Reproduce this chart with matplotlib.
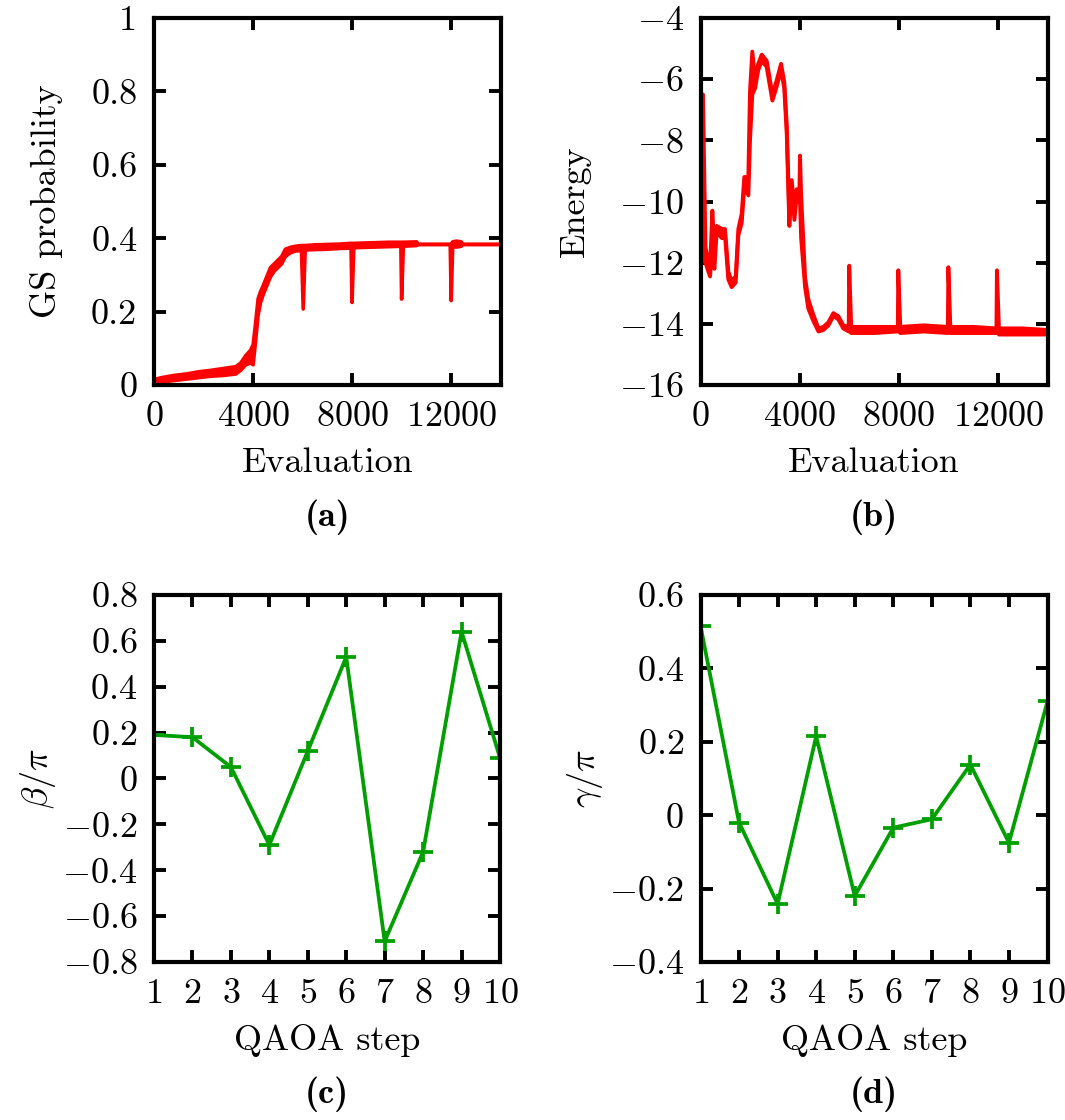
import numpy as np
import matplotlib.pyplot as plt

plt.rcParams['font.family'] = 'cmr10'
plt.rcParams['mathtext.fontset'] = 'cm'
plt.rcParams['axes.formatter.use_mathtext'] = True
plt.rcParams['font.size'] = 26

# (a) GS probability vs evaluation: lower / upper edge of the noisy trace
eval_a = [0, 300, 800, 1300, 1800, 2300, 2800, 3300, 3500, 3700, 3900, 4000,
          4100, 4200, 4300, 4400, 4550, 4700, 4850, 5000, 5150, 5300, 5500,
          5700, 5950, 6020, 6100, 6500, 7000, 7500, 7950, 7990, 8060, 8500,
          9000, 9500, 9960, 9990, 10060, 10600, 10650, 11950, 11990, 12050,
          12200, 12400, 12450, 14000]
gs_low = [0.000, 0.008, 0.012, 0.016, 0.020, 0.024, 0.026, 0.030, 0.040,
          0.055, 0.060, 0.055, 0.120, 0.190, 0.225, 0.245, 0.270, 0.295,
          0.310, 0.320, 0.330, 0.350, 0.360, 0.365, 0.366, 0.207, 0.368,
          0.369, 0.370, 0.372, 0.373, 0.225, 0.374, 0.375, 0.376, 0.377,
          0.378, 0.234, 0.378, 0.380, 0.383, 0.383, 0.230, 0.376, 0.376,
          0.378, 0.383, 0.383]
gs_high = [0.015, 0.020, 0.026, 0.030, 0.036, 0.040, 0.045, 0.050, 0.060,
           0.080, 0.095, 0.110, 0.170, 0.235, 0.255, 0.270, 0.295, 0.320,
           0.330, 0.340, 0.350, 0.370, 0.375, 0.378, 0.380, 0.380, 0.380,
           0.382, 0.383, 0.384, 0.386, 0.386, 0.386, 0.387, 0.388, 0.389,
           0.389, 0.389, 0.389, 0.390, 0.383, 0.383, 0.383, 0.390, 0.392,
           0.390, 0.383, 0.383]

# (b) energy vs evaluation: lower / upper edge of the noisy trace
eval_b = [0, 100, 200, 385, 478, 560, 653, 868, 988, 1123, 1258, 1420, 1527,
          1662, 1768, 1930, 1997, 2090, 2200, 2330, 2470, 2670, 2900, 3070,
          3250, 3380, 3480, 3585, 3680, 3790, 3880, 3990, 4015, 4060, 4220,
          4350, 4550, 4760, 4960, 5160, 5360, 5560, 5760, 5980, 6000, 6080,
          7000, 7960, 7980, 8060, 9000, 9980, 10000, 10080, 11000, 11940,
          11960, 12040, 13000, 14000]
en_low = [-9.0, -11.9, -12.0, -12.45, -11.5, -12.2, -11.0, -11.2, -11.1,
          -12.55, -12.8, -12.65, -11.1, -10.7, -9.5, -9.8, -8.0, -6.5, -6.3,
          -5.7, -5.4, -5.6, -6.7, -6.25, -5.7, -6.3, -7.8, -10.8, -9.5,
          -10.6, -9.8, -10.0, -10.0, -11.2, -12.8, -13.5, -13.9, -14.25,
          -14.2, -14.05, -13.75, -13.85, -14.15, -14.25, -14.15, -14.3, -14.3,
          -14.25, -14.15, -14.3, -14.25, -14.3, -14.15, -14.3, -14.3, -14.3,
          -14.2, -14.35, -14.35, -14.35]
en_high = [-6.5, -6.5, -11.5, -12.2, -10.3, -11.6, -10.8, -10.9, -10.9,
           -12.3, -12.6, -12.45, -10.9, -10.4, -9.2, -9.2, -6.4, -5.1, -6.0,
           -5.5, -5.2, -5.4, -6.5, -6.05, -5.5, -6.1, -7.5, -10.5, -9.3,
           -10.3, -9.6, -9.7, -8.5, -9.8, -12.5, -13.2, -13.7, -14.15, -14.1,
           -13.95, -13.65, -13.75, -14.05, -14.1, -12.1, -14.1, -14.1, -14.1,
           -12.25, -14.1, -14.05, -14.1, -12.15, -14.1, -14.1, -14.15, -12.25,
           -14.15, -14.15, -14.2]

# (c), (d) QAOA angles
steps = np.arange(1, 11)
beta = [0.19, 0.18, 0.05, -0.29, 0.12, 0.53, -0.71, -0.32, 0.64, 0.09]
gamma = [0.516, -0.02, -0.242, 0.215, -0.22, -0.034, -0.011, 0.138, -0.075, 0.31]

red = '#ff0000'
green = '#009f00'

fig = plt.figure(figsize=(10.65, 11.2), dpi=100)
ax_a = fig.add_axes([154/1065, 1-385/1120, 347/1065, 367/1120])
ax_b = fig.add_axes([700.5/1065, 1-385/1120, 347/1065, 367/1120])
ax_c = fig.add_axes([154/1065, 1-962/1120, 346/1065, 367/1120])
ax_d = fig.add_axes([700.5/1065, 1-962/1120, 347/1065, 367/1120])

for ax in (ax_a, ax_b, ax_c, ax_d):
    for s in ax.spines.values():
        s.set_linewidth(3.0)
    ax.tick_params(direction='in', top=True, right=True, length=8.5,
                   width=2.8, pad=12, labelsize=26)

ax_a.fill_between(eval_a, gs_low, gs_high, color=red, lw=0)
ax_a.plot(eval_a, gs_low, color=red, lw=2.6)
ax_a.plot(eval_a, gs_high, color=red, lw=2.6)
ax_a.set_xlim(0, 14000)
ax_a.set_ylim(0, 1)
ax_a.set_xticks([0, 4000, 8000, 12000])
ax_a.set_yticks([0, 0.2, 0.4, 0.6, 0.8, 1])
ax_a.set_yticklabels(['0', '0.2', '0.4', '0.6', '0.8', '1'])
ax_a.set_xlabel('Evaluation', labelpad=10)
ax_a.set_ylabel('GS probability', labelpad=20)

ax_b.fill_between(eval_b, en_low, en_high, color=red, lw=0)
ax_b.plot(eval_b, en_low, color=red, lw=2.8)
ax_b.plot(eval_b, en_high, color=red, lw=2.8)
ax_b.set_xlim(0, 14000)
ax_b.set_ylim(-16, -4)
ax_b.set_xticks([0, 4000, 8000, 12000])
ax_b.set_yticks([-16, -14, -12, -10, -8, -6, -4])
ax_b.set_xlabel('Evaluation', labelpad=10)
ax_b.set_ylabel('Energy', labelpad=20)

ax_c.plot(steps, beta, color=green, lw=2.7, marker='+', ms=14, mew=2.7)
ax_c.set_xlim(1, 10)
ax_c.set_ylim(-0.8, 0.8)
ax_c.set_xticks(steps)
ax_c.set_yticks([-0.8, -0.6, -0.4, -0.2, 0, 0.2, 0.4, 0.6, 0.8])
ax_c.set_yticklabels(['$-0.8$', '$-0.6$', '$-0.4$', '$-0.2$', '$0$',
                      '$0.2$', '$0.4$', '$0.6$', '$0.8$'])
ax_c.set_xlabel('QAOA step', labelpad=10)
ax_c.set_ylabel(r'$\beta/\pi$', labelpad=3)

ax_d.plot(steps, gamma, color=green, lw=2.7, marker='+', ms=14, mew=2.7)
ax_d.set_xlim(1, 10)
ax_d.set_ylim(-0.4, 0.6)
ax_d.set_xticks(steps)
ax_d.set_yticks([-0.4, -0.2, 0, 0.2, 0.4, 0.6])
ax_d.set_yticklabels(['$-0.4$', '$-0.2$', '$0$', '$0.2$', '$0.4$', '$0.6$'])
ax_d.set_xlabel('QAOA step', labelpad=10)
ax_d.set_ylabel(r'$\gamma/\pi$', labelpad=3)

for ax, tag in zip((ax_a, ax_b, ax_c, ax_d), 'abcd'):
    ax.text(0.5, -0.36, '(%s)' % tag, transform=ax.transAxes,
            ha='center', va='center', fontsize=26, family='cmb10')

fig.savefig('out.png', dpi=100)
